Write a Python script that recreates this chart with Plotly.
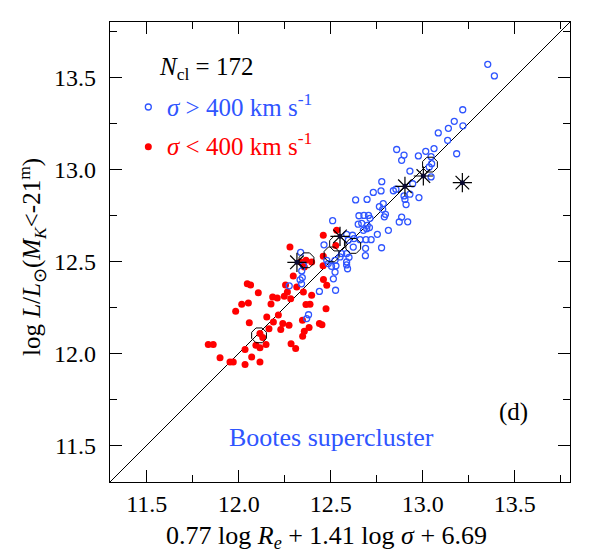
import plotly.graph_objects as go

# ---- data ----
red_x = [12.046, 12.064, 12.106, 12.184, 12.209, 12.247, 12.264, 12.315, 12.282, 12.175,
         12.052, 12.016, 11.983, 12.215, 12.152, 12.057, 12.188, 12.239, 12.273, 12.164,
         12.228, 12.115, 12.130, 12.148, 12.093, 12.115, 11.834, 11.861, 12.284, 12.309,
         12.034, 11.898, 12.070, 11.952, 11.970, 12.115, 12.034, 12.296, 12.254,
         12.351, 12.396, 12.365, 12.387, 12.474, 12.438, 12.452, 12.382, 12.346, 12.356, 12.347,
         12.458, 12.460, 12.478, 12.532, 12.459, 12.527, 12.278, 12.336, 12.365, 12.396, 12.356,
         12.459]
red_y = [12.378, 12.371, 12.328, 12.305, 12.300, 12.309, 12.333, 12.360, 12.296, 12.267,
         12.273, 12.266, 12.228, 12.207, 12.197, 12.166, 12.170, 12.161, 12.152, 12.133,
         12.129, 12.107, 12.085, 12.047, 12.043, 12.030, 12.047, 12.047, 12.052, 12.025,
         12.020, 11.975, 11.980, 11.952, 11.952, 11.952, 11.938, 12.420, 12.371,
         12.333, 12.315, 12.264, 12.266, 12.241, 12.161, 12.154, 12.139, 12.179, 12.119, 12.092,
         12.475, 12.400, 12.369, 12.668, 12.641, 12.586, 12.577, 12.496, 12.505, 12.496, 12.469,
         12.527]

blue_x = [13.353, 13.389, 13.217, 13.171, 13.139, 13.218, 13.084, 13.135, 13.061, 13.016,
          12.976, 12.898, 12.885, 13.045, 13.184, 13.048, 13.035, 12.930, 13.045, 12.945,
          12.898, 12.903, 12.979, 12.909, 12.885, 12.918, 12.872, 12.858, 12.777, 12.773,
          12.731, 12.840, 12.854, 12.635, 12.697, 12.785, 12.764, 12.782, 12.791, 12.797,
          12.653, 12.680, 12.705, 12.713, 12.649, 12.668, 12.698, 12.695, 12.710, 12.677,
          12.753, 12.813, 12.626, 12.659, 12.691, 12.719, 12.776, 12.622, 12.595, 12.510,
          12.463, 12.586, 12.618, 12.689, 12.688, 12.586, 12.559, 12.586, 12.586, 12.591,
          12.550, 12.523, 12.528, 12.504, 12.486, 12.478, 12.523, 12.514, 12.526, 12.438,
          12.336, 12.351, 12.342, 12.345, 12.333, 12.341, 12.274, 12.379, 12.369, 12.930,
          12.599]
blue_y = [13.570, 13.507, 13.323, 13.260, 13.222, 13.236, 13.197, 13.157, 13.112, 13.097,
          13.072, 13.077, 13.048, 13.068, 13.084, 13.030, 13.012, 12.990, 12.958, 12.921,
          12.855, 12.836, 12.846, 12.808, 12.740, 12.714, 12.713, 13.107, 12.932, 12.882,
          12.874, 12.883, 12.891, 12.833, 12.836, 12.813, 12.797, 12.782, 12.741, 12.755,
          12.747, 12.749, 12.749, 12.733, 12.701, 12.706, 12.695, 12.677, 12.683, 12.668,
          12.646, 12.668, 12.623, 12.617, 12.617, 12.617, 12.573, 12.577, 12.614, 12.720,
          12.589, 12.646, 12.641, 12.570, 12.530, 12.541, 12.541, 12.496, 12.480, 12.459,
          12.523, 12.505, 12.475, 12.472, 12.487, 12.505, 12.441, 12.404, 12.342, 12.336,
          12.548, 12.478, 12.447, 12.411, 12.399, 12.377, 12.366, 12.209, 12.188, 12.864,
          12.521]

oct_x = [12.110, 12.368, 12.504, 12.534, 12.622, 13.039]
oct_y = [12.097, 12.505, 12.537, 12.596, 12.583, 13.025]

ast_x = [12.316, 12.550, 12.903, 13.003, 13.215]
ast_y = [12.494, 12.635, 12.907, 12.963, 12.927]

line_xy = [11.3, 13.8]
axis_range = [11.3, 13.8]
tick_vals = [11.5, 12.0, 12.5, 13.0, 13.5]

BLUE = "#2f55ff"
RED = "#ff0000"
FONT = "Liberation Serif"

fig = go.Figure()
fig.add_trace(go.Scatter(x=line_xy, y=line_xy, mode="lines",
                         line=dict(color="black", width=1), hoverinfo="skip"))
fig.add_trace(go.Scatter(x=red_x, y=red_y, mode="markers",
                         marker=dict(symbol="circle", size=7, color=RED, line=dict(width=0))))
fig.add_trace(go.Scatter(x=blue_x, y=blue_y, mode="markers",
                         marker=dict(symbol="circle-open", size=6, color=BLUE,
                                     line=dict(width=1.3, color=BLUE))))
fig.add_trace(go.Scatter(x=oct_x, y=oct_y, mode="markers",
                         marker=dict(symbol="octagon-open", size=16, color="black",
                                     line=dict(width=1, color="black"))))
fig.add_trace(go.Scatter(x=ast_x, y=ast_y, mode="markers",
                         marker=dict(symbol="asterisk-open", size=16, color="black",
                                     line=dict(width=1.2, color="black"))))
fig.add_trace(go.Scatter(x=ast_x, y=ast_y, mode="markers",
                         marker=dict(symbol="circle", size=5, color="#0a0a30")))

axis_common = dict(
    range=axis_range, tickvals=tick_vals, tickformat=".1f",
    ticks="inside", ticklen=12, tickwidth=1.2, tickcolor="black",
    minor=dict(dtick=0.25, tick0=11.25, ticks="inside", ticklen=7, tickwidth=1.2, tickcolor="black"),
    showline=True, linecolor="black", linewidth=1.3, mirror="allticks",
    showgrid=False, zeroline=False,
    tickfont=dict(family=FONT, size=24, color="black"),
)
fig.update_xaxes(**axis_common, ticklabelstandoff=0)
fig.update_yaxes(**axis_common, ticklabelstandoff=8)

# the page body adds an 8px offset, so the figure is 8px smaller and the
# left/top margins are reduced by 8px to keep the plot frame in place
fig.update_layout(
    width=586, height=545,
    margin=dict(l=102, r=24, t=14, b=71),
    paper_bgcolor="white", plot_bgcolor="white",
    showlegend=False,
    font=dict(family=FONT, color="black"),
)

ann = []
ann.append(dict(text="<i>N</i><sub>cl</sub> = 172", x=0.1015, y=0.898, xref="paper", yref="paper",
                xanchor="left", yanchor="middle", showarrow=False, font=dict(size=25, color="black")))
ann.append(dict(text="<i>σ</i> > 400 km s<sup>-1</sup>", x=0.1196, y=0.8196, xref="paper", yref="paper",
                xanchor="left", yanchor="middle", showarrow=False, font=dict(size=25, color=BLUE)))
ann.append(dict(text="<i>σ</i> < 400 km s<sup>-1</sup>", x=0.1196, y=0.7354, xref="paper", yref="paper",
                xanchor="left", yanchor="middle", showarrow=False, font=dict(size=25, color=RED)))
ann.append(dict(text="Bootes supercluster", x=0.482, y=0.0957, xref="paper", yref="paper",
                xanchor="center", yanchor="middle", showarrow=False, font=dict(size=26, color=BLUE)))
ann.append(dict(text="(d)", x=0.878, y=0.152, xref="paper", yref="paper",
                xanchor="center", yanchor="middle", showarrow=False, font=dict(size=25, color="black")))
ann.append(dict(text="0.77 log <i>R<sub>e</sub></i> + 1.41 log <i>σ</i> + 6.69", x=0.471, y=-0.1196,
                xref="paper", yref="paper", xanchor="center", yanchor="middle", showarrow=False,
                font=dict(size=26, color="black")))
ann.append(dict(text="log <i>L</i>/<i>L</i><sub>⊙</sub>(<i>M<sub>K</sub></i><-21<sup>m</sup>)",
                x=-0.1696, y=0.489, xref="paper", yref="paper", xanchor="center", yanchor="middle",
                textangle=-90, showarrow=False, font=dict(size=25, color="black")))
fig.update_layout(annotations=ann)

shapes = [
    dict(type="circle", xref="paper", yref="paper", xsizemode="pixel", ysizemode="pixel",
         xanchor=0.0833, yanchor=0.8152, x0=-3, x1=3, y0=-3, y1=3,
         line=dict(color=BLUE, width=1.3), fillcolor="rgba(0,0,0,0)"),
    dict(type="circle", xref="paper", yref="paper", xsizemode="pixel", ysizemode="pixel",
         xanchor=0.0833, yanchor=0.7289, x0=-3.5, x1=3.5, y0=-3.5, y1=3.5,
         line=dict(color=RED, width=0), fillcolor=RED),
]
fig.update_layout(shapes=shapes)

fig.write_html("out.html")
